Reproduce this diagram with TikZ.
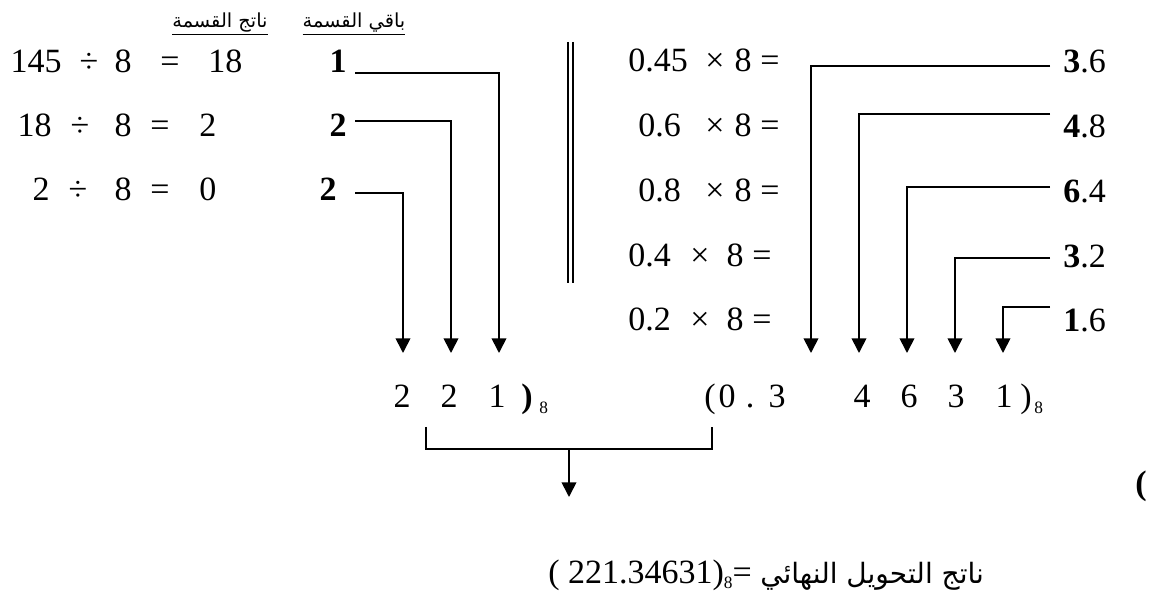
\documentclass[tikz,border=0pt]{standalone}
\usepackage{fontspec}
\setmainfont{Liberation Serif}
\newfontfamily\timesfont{Liberation Serif}
\newfontfamily\arabicfont[Script=Arabic]{DejaVu Sans}
\TeXXeTstate=1
\usetikzlibrary{arrows.meta}

\newcommand{\numfont}{\timesfont\fontsize{25.5}{30}\selectfont}
\newcommand{\subfont}{\timesfont\fontsize{13}{15}\selectfont}

\begin{document}
\begin{tikzpicture}[x=0.75pt, y=-0.75pt,
  num/.style={font=\numfont, inner sep=0pt},
  rem/.style={font=\numfont\bfseries, inner sep=0pt},
  lbl/.style={font=\fontsize{14.5}{17}\selectfont\arabicfont, inner sep=0pt},
  flow/.style={-{Triangle[length=11pt,width=11pt]}, line width=1.3pt}]
\useasboundingbox (0,0) rectangle (1158,595);
% column headings
\node[lbl, anchor=base] (hq) at (220,28) {\underline{\beginR ناتج القسمة\endR}};
\node[lbl, anchor=base] (hr) at (354,28) {\underline{\beginR باقي القسمة\endR}};
% integer part: divide by 8
\foreach \i/\n/\q/\nx/\dx/\ex/\qx/\y in {1/145/18/62/89/170/208/73, 2/18/2/52/80/160/199/137, 3/2/0/50/78/160/199/201} {
    \node[num, anchor=base east] (n\i) at (\nx,\y) {\n};
    \node[num, anchor=base] (dv\i) at (\dx,\y) {÷};
    \node[num, anchor=base] (m\i) at (123,\y) {8};
    \node[num, anchor=base] (eq\i) at (\ex,\y) {=};
    \node[num, anchor=base west] (q\i) at (\qx,\y) {\q};
}
\node[rem, anchor=base east] (r1) at (347,73) {1};
\node[rem, anchor=base east] (r2) at (347,137) {2};
\node[rem, anchor=base east] (r3) at (337,201) {2};
\coordinate (sl1) at (355,73);
\coordinate (sl2) at (355,121);
\coordinate (sl3) at (355,193);
\coordinate (tl1) at (499,353);
\coordinate (tl2) at (451,353);
\coordinate (tl3) at (403,353);
\foreach \i in {1,2,3}
    \draw[flow] (sl\i) -| (tl\i);
% separator
\draw[line width=1.3pt] (568,42) -- (568,283);
\draw[line width=1.3pt] (573,42) -- (573,283);
% fraction part: multiply by 8
\foreach \i/\f/\fx/\mx/\ex/\y in {1/0.45/628/715/770/72, 2/0.6/638/715/770/137, 3/0.8/638/715/770/202, 4/0.4/628/700/762/267, 5/0.2/628/700/762/331} {
    \node[num, anchor=base west] (p\i) at (\fx,\y) {\f};
    \node[num, anchor=base] (x\i) at (\mx,\y) {×};
    \node[num, anchor=base] (k\i) at (\ex-27,\y) {8};
    \node[num, anchor=base] (ep\i) at (\ex,\y) {=};
}
\foreach \i/\a/\b/\y in {1/3/6/73, 2/4/8/138, 3/6/4/203, 4/3/2/268, 5/1/6/332}
    \node[num, anchor=base west] (o\i) at (1063,\y) {\textbf{\a}.\b};
\foreach \i/\ly/\tx in {1/66/811, 2/114/859, 3/187/907, 4/258/955, 5/307/1003} {
    \coordinate (sr\i) at (1050,\ly);
    \coordinate (tr\i) at (\tx,353);
    \draw[flow] (sr\i) -| (tr\i);
}
% octal digits
\node[num, anchor=base] (i1) at (402,408) {2};
\node[num, anchor=base] (i2) at (449,408) {2};
\node[num, anchor=base] (i3) at (497,408) {1};
\node[rem, anchor=base] (ic) at (527,408) {)};
\node[font=\subfont, inner sep=0pt, anchor=base west] (ib) at (539,414) {8};
\node[num, anchor=base] (fo) at (710,408) {(};
\foreach \k/\t/\x in {1/0/727, 2/./750, 3/3/777, 4/4/862, 5/6/909, 6/3/956, 7/1/1004}
    \node[num, anchor=base] (f\k) at (\x,408) {\t};
\node[num, anchor=base] (fc) at (1026,408) {)};
\node[font=\subfont, inner sep=0pt, anchor=base west] (fb) at (1034,414) {8};
% join both parts
\coordinate (bl) at (426,427);
\coordinate (br) at (712,427);
\coordinate (bm) at (569,449);
\coordinate (bt) at (569,497);
\draw[line width=1.3pt] (bl) |- (bm) -| (br);
\draw[flow] (bm) -- (bt);
\node[rem, anchor=base] (lone) at (1141,495) {(};
% final result
\node[num, anchor=base west] (res) at (548,583) {( 221.34631)\raisebox{-4pt}{\subfont 8}= {\fontsize{21}{24}\selectfont\arabicfont\beginR ناتج التحويل النهائي\endR}};
\end{tikzpicture}
\end{document}
